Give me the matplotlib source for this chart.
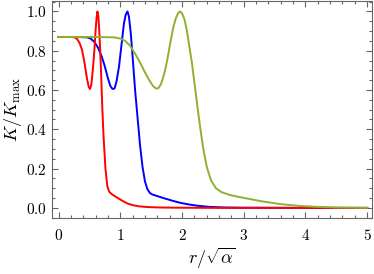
import numpy as np
import matplotlib
matplotlib.use("Agg")
import matplotlib.pyplot as plt
from matplotlib.ticker import MultipleLocator, FuncFormatter

plt.rcParams['mathtext.fontset'] = 'cm'
plt.rcParams['font.family'] = 'serif'
plt.rcParams['font.serif'] = ['DejaVu Serif']

# values
r_red = [0.0, 0.2, 0.26, 0.30, 0.34, 0.38, 0.42, 0.46, 0.49, 0.51, 0.53, 0.555, 0.58, 0.60,
         0.615, 0.63, 0.645, 0.66, 0.675, 0.69, 0.71, 0.73, 0.76, 0.79, 0.82, 0.85,
         0.9, 0.96, 1.04, 1.12, 1.2, 1.3, 1.45, 1.65, 1.9, 2.5, 3.5, 5.0]
K_red = [0.87, 0.87, 0.868, 0.86, 0.84, 0.805, 0.74, 0.66, 0.615, 0.605, 0.625, 0.70, 0.80, 0.90,
         0.965, 1.0, 0.975, 0.90, 0.80, 0.68, 0.50, 0.36, 0.20, 0.11, 0.083, 0.073,
         0.062, 0.05, 0.035, 0.022, 0.014, 0.008, 0.004, 0.002, 0.001, 0.0, 0.0, 0.0]

r_blue = [0.0, 0.3, 0.46, 0.52, 0.58, 0.64, 0.70, 0.75, 0.80, 0.84, 0.87, 0.89, 0.91, 0.94,
          0.98, 1.02, 1.06, 1.09, 1.117, 1.14, 1.17, 1.20, 1.24, 1.28, 1.32, 1.36, 1.40,
          1.44, 1.48, 1.52, 1.60, 1.72, 1.85, 1.97, 2.1, 2.25, 2.45, 2.7, 3.0, 4.0, 5.0]
K_blue = [0.87, 0.87, 0.868, 0.862, 0.845, 0.815, 0.77, 0.72, 0.66, 0.62, 0.607, 0.605, 0.61, 0.645,
          0.72, 0.83, 0.94, 0.985, 1.0, 0.975, 0.89, 0.77, 0.60, 0.46, 0.32, 0.21, 0.135,
          0.095, 0.076, 0.068, 0.06, 0.048, 0.036, 0.026, 0.018, 0.011, 0.005, 0.002, 0.001, 0.0, 0.0]

r_green = [0.0, 0.6, 0.9, 1.0, 1.08, 1.16, 1.24, 1.32, 1.40, 1.46, 1.52, 1.56, 1.59, 1.62,
           1.66, 1.71, 1.76, 1.81, 1.86, 1.90, 1.94, 1.97, 2.00, 2.04, 2.08, 2.12, 2.16,
           2.20, 2.24, 2.29, 2.34, 2.40, 2.47, 2.55, 2.64, 2.76, 2.9, 3.05, 3.3, 3.6, 3.9,
           4.2, 4.5, 5.0]
K_green = [0.87, 0.87, 0.868, 0.862, 0.85, 0.825, 0.785, 0.74, 0.69, 0.655, 0.625, 0.612, 0.607, 0.61,
           0.63, 0.68, 0.75, 0.84, 0.92, 0.965, 0.993, 1.0, 0.99, 0.96, 0.90, 0.82, 0.74,
           0.64, 0.54, 0.42, 0.31, 0.21, 0.14, 0.10, 0.08, 0.067, 0.057, 0.048, 0.033, 0.019, 0.010,
           0.005, 0.002, 0.0]

green = (0.56, 0.69, 0.19)
frame = '#666666'

fig = plt.figure(figsize=(3.74, 2.74), dpi=100)
ax = fig.add_axes([0.14, 0.204, 0.855, 0.793])

ax.plot(r_blue, K_blue, color='#0000ff', lw=1.4)
ax.plot(r_red, K_red, color='#ff0000', lw=1.4)
ax.plot(r_green, K_green, color=green, lw=1.4)

ax.set_xlim(-0.1, 5.08)
ax.set_ylim(-0.052, 1.054)
ax.xaxis.set_major_locator(MultipleLocator(1))
ax.xaxis.set_minor_locator(MultipleLocator(0.2))
ax.yaxis.set_major_locator(MultipleLocator(0.2))
ax.yaxis.set_minor_locator(MultipleLocator(0.05))
ax.xaxis.set_major_formatter(FuncFormatter(lambda v, p: '$%d$' % round(v)))
ax.yaxis.set_major_formatter(FuncFormatter(lambda v, p: '$%.1f$' % v))

ax.tick_params(which='both', direction='in', top=True, right=True, color=frame, width=0.8)
ax.tick_params(which='major', length=4.5, labelsize=11)
ax.tick_params(which='minor', length=2.5)
ax.tick_params(axis='x', pad=7)
ax.tick_params(axis='y', pad=4)
for s in ax.spines.values():
    s.set_color(frame)
    s.set_linewidth(0.8)

ax.set_xlabel(r'$r/\sqrt{\alpha}$', fontsize=13, labelpad=2)
ax.set_ylabel(r'$K/K_{\mathrm{max}}$', fontsize=13)
ax.yaxis.set_label_coords(-0.09, 0.5)

fig.savefig('out.png', dpi=100)
